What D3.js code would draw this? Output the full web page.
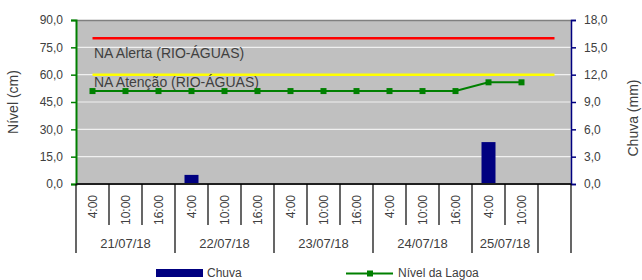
<!DOCTYPE html>
<html>
<head>
<meta charset="utf-8">
<script src="https://cdn.jsdelivr.net/npm/d3@7"></script>
<style>
    body { margin: 0; background: #fff; }
    svg text { font-family: "Liberation Sans Narrow", "Arial Narrow", sans-serif; fill: #404040; }
</style>
</head>
<body>
<div id="chart"></div>
<script>
    // categories (15 slots, the last one is empty)
    var times = ["4:00", "10:00", "16:00", "4:00", "10:00", "16:00", "4:00", "10:00", "16:00",
                 "4:00", "10:00", "16:00", "4:00", "10:00", ""];
    var days = ["21/07/18", "22/07/18", "23/07/18", "24/07/18", "25/07/18", ""];
    var daySlots = [3, 3, 3, 3, 2, 1];

    // series
    var chuva = [0, 0, 0, 1.0, 0, 0, 0, 0, 0, 0, 0, 0, 4.6, 0, null];
    var nivel = [51, 51, 51, 51, 51, 51, 51, 51, 51, 51, 51, 51, 55.8, 55.8, null];
    var alerta = [80, 80, 80, 80, 80, 80, 80, 80, 80, 80, 80, 80, 80, 80, 80];
    var atencao = [60, 60, 60, 60, 60, 60, 60, 60, 60, 60, 60, 60, 60, 60, 60];

    // tick values
    var leftTicks = [0, 15, 30, 45, 60, 75, 90];
    var rightTicks = [0, 3, 6, 9, 12, 15, 18];

    var margin = {top: 20, right: 71, bottom: 96, left: 76},
        width = 642 - margin.left - margin.right,
        height = 280 - margin.top - margin.bottom;

    var svg = d3.select("#chart").append("svg")
        .attr("width", 642)
        .attr("height", 280);
    var g = svg.append("g")
        .attr("transform", "translate(" + margin.left + "," + margin.top + ")");

    var x = d3.scaleBand().domain(d3.range(times.length)).range([0, width]).padding(0);
    var yL = d3.scaleLinear().domain([0, 90]).range([height, 0]);
    var yR = d3.scaleLinear().domain([0, 18]).range([height, 0]);
    var fmt = function(d) { return d3.format(".1f")(d).replace(".", ","); };
    var cx = function(i) { return x(i) + x.bandwidth() / 2; };

    // plot background
    g.append("rect").attr("width", width).attr("height", height).attr("fill", "#c0c0c0");

    // grid
    g.selectAll(".grid").data(leftTicks.slice(1, -1)).enter().append("line")
        .attr("x1", 0).attr("x2", width)
        .attr("y1", function(d) { return yL(d); }).attr("y2", function(d) { return yL(d); })
        .attr("stroke", "#f0f0f0").attr("stroke-width", 1.2);
    g.append("line").attr("x1", 0).attr("x2", width).attr("y1", 0.5).attr("y2", 0.5)
        .attr("stroke", "#808080").attr("stroke-width", 1.5);

    // bars
    var bw = 14;
    g.selectAll(".bar").data(chuva.map(function(d, i) { return [i, d]; }).filter(function(d) { return d[1] > 0; }))
        .enter().append("rect")
        .attr("x", function(d) { return cx(d[0]) - bw / 2; })
        .attr("y", function(d) { return yR(d[1]); })
        .attr("width", bw)
        .attr("height", function(d) { return height - yR(d[1]); })
        .attr("fill", "#000080");

    // reference lines
    var refLine = d3.line().x(function(d, i) { return cx(i); }).y(function(d) { return yL(d); });
    g.append("path").datum(alerta).attr("d", refLine).attr("fill", "none")
        .attr("stroke", "#ff0000").attr("stroke-width", 2.5);
    g.append("path").datum(atencao).attr("d", refLine).attr("fill", "none")
        .attr("stroke", "#ffff00").attr("stroke-width", 2.5);

    g.append("text").attr("x", 18).attr("y", yL(75) + 11).style("font-size", "14px").text("NA Alerta (RIO-ÁGUAS)");
    g.append("text").attr("x", 18).attr("y", yL(45) - 15).style("font-size", "14px").text("NA Atenção (RIO-ÁGUAS)");

    // level line
    var lvl = d3.line().defined(function(d) { return d != null; })
        .x(function(d, i) { return cx(i); }).y(function(d) { return yL(d); });
    g.append("path").datum(nivel).attr("d", lvl).attr("fill", "none")
        .attr("stroke", "#008000").attr("stroke-width", 2);
    g.selectAll(".pt").data(nivel.map(function(d, i) { return [i, d]; }).filter(function(d) { return d[1] != null; }))
        .enter().append("rect")
        .attr("x", function(d) { return cx(d[0]) - 3; })
        .attr("y", function(d) { return yL(d[1]) - 3; })
        .attr("width", 6).attr("height", 6).attr("fill", "#008000");

    // left axis
    var axL = g.append("g").call(d3.axisLeft(yL).tickValues(leftTicks).tickFormat(fmt).tickSizeOuter(0).tickSize(5).tickPadding(8));
    axL.select(".domain").attr("stroke", "#008000").attr("stroke-width", 2);
    axL.selectAll(".tick line").attr("stroke", "#008000").attr("stroke-width", 1.5);
    axL.selectAll("text").style("font-size", "12px").attr("fill", "#404040");

    // right axis
    var axR = g.append("g").attr("transform", "translate(" + width + ",0)")
        .call(d3.axisRight(yR).tickValues(rightTicks).tickFormat(fmt).tickSizeOuter(0).tickSize(5).tickPadding(8));
    axR.select(".domain").attr("stroke", "#000080").attr("stroke-width", 1.5);
    axR.selectAll(".tick line").attr("stroke", "#000080").attr("stroke-width", 1.5);
    axR.selectAll("text").style("font-size", "12px").attr("fill", "#404040");

    // axis titles
    svg.append("text").attr("transform", "translate(18," + (margin.top + height / 2) + ") rotate(-90)")
        .attr("text-anchor", "middle").style("font-size", "14px").text("Nível (cm)");
    svg.append("text").attr("transform", "translate(638," + (margin.top + height / 2 + 16) + ") rotate(-90)")
        .attr("text-anchor", "middle").style("font-size", "14px").text("Chuva (mm)");

    // category axis
    g.append("line").attr("x1", 0).attr("x2", width).attr("y1", height).attr("y2", height)
        .attr("stroke", "#202020").attr("stroke-width", 2);
    var bounds = [0];
    daySlots.forEach(function(n) { bounds.push(bounds[bounds.length - 1] + n); });
    g.selectAll(".tk").data(d3.range(times.length + 1)).enter().append("line")
        .attr("x1", function(i) { return i < times.length ? x(i) : width; })
        .attr("x2", function(i) { return i < times.length ? x(i) : width; })
        .attr("y1", height)
        .attr("y2", function(i) { return bounds.indexOf(i) >= 0 ? height + 69 : height + 41; })
        .attr("stroke", "#000").attr("stroke-width", 1.2);
    g.selectAll(".tl").data(times).enter().append("text")
        .attr("transform", function(d, i) { return "translate(" + (cx(i) + 4) + "," + (height + 11) + ") rotate(-90)"; })
        .attr("text-anchor", "end").style("font-size", "12px").text(function(d) { return d; });
    g.selectAll(".dl").data(days).enter().append("text")
        .attr("x", function(d, i) { return (x(bounds[i]) + (bounds[i + 1] < times.length ? x(bounds[i + 1]) : width)) / 2; })
        .attr("y", height + 64)
        .attr("text-anchor", "middle").style("font-size", "13px").text(function(d) { return d; });

    // legend
    svg.append("rect").attr("x", 156).attr("y", 269).attr("width", 47).attr("height", 8).attr("fill", "#000080");
    svg.append("text").attr("x", 207).attr("y", 277).style("font-size", "12px").text("Chuva");
    svg.append("line").attr("x1", 346).attr("x2", 393).attr("y1", 273.5).attr("y2", 273.5)
        .attr("stroke", "#008000").attr("stroke-width", 2);
    svg.append("rect").attr("x", 367).attr("y", 270.5).attr("width", 6).attr("height", 6).attr("fill", "#008000");
    svg.append("text").attr("x", 398).attr("y", 277).style("font-size", "12px").text("Nível da Lagoa");
</script>
</body>
</html>
